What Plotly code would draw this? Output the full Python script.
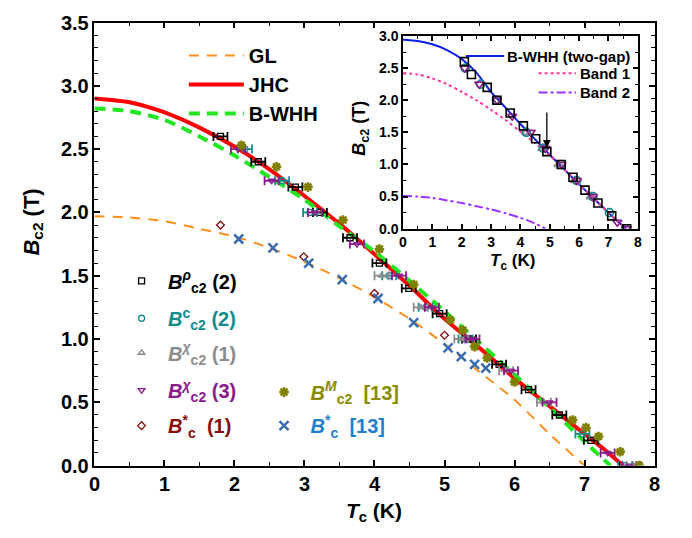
import plotly.graph_objects as go

W, H = 692, 538
F = "Liberation Sans"

# ---------------- main panel curves ----------------
gl_T = [0, 0.5, 1.0, 1.5, 2.0, 2.5, 3.0, 3.5, 4.0, 4.5, 5.0, 5.5, 6.0, 6.5, 7.0]
gl_B = [1.97, 1.96, 1.93, 1.87, 1.81, 1.72, 1.61, 1.48, 1.33, 1.16, 0.96, 0.74, 0.52, 0.25, 0.0]

jhc_T = [0, 0.5, 1.0, 1.5, 2.0, 2.5, 3.0, 3.5, 4.0, 4.5, 5.0, 5.5, 6.0, 6.5, 7.0, 7.3, 7.55]
jhc_B = [2.90, 2.87, 2.79, 2.67, 2.52, 2.34, 2.13, 1.91, 1.67, 1.42, 1.16, 0.93, 0.69, 0.47, 0.25, 0.12, 0.0]

bwhh_T = [0, 0.5, 1.0, 1.5, 2.0, 2.5, 3.0, 3.5, 4.0, 4.5, 5.0, 5.5, 6.0, 6.5, 7.0, 7.37]
bwhh_B = [2.82, 2.80, 2.73, 2.60, 2.45, 2.28, 2.10, 1.89, 1.69, 1.46, 1.22, 0.97, 0.72, 0.46, 0.19, 0.0]

# ---------------- main panel data ----------------
rho_T = [1.80, 2.34, 2.87, 3.22, 3.65, 4.07, 4.49, 4.93, 5.35, 5.78, 6.20, 6.64, 7.09]
rho_B = [2.60, 2.40, 2.20, 2.00, 1.80, 1.60, 1.40, 1.20, 1.00, 0.80, 0.60, 0.40, 0.20]

cs_T = [2.15, 2.68, 3.08, 4.21, 4.73, 5.30, 6.97, 7.58]
cs_B = [2.50, 2.25, 2.00, 1.50, 1.25, 1.00, 0.25, 0.00]

chi1_T = [4.10, 4.66, 5.24, 5.88, 6.42, 7.70]
chi1_B = [1.50, 1.25, 1.00, 0.75, 0.50, 0.00]

chi3_T = [2.05, 2.53, 3.15, 3.75, 4.35, 4.82, 5.40, 5.95, 6.50, 7.33, 7.64]
chi3_B = [2.50, 2.25, 2.00, 1.75, 1.50, 1.25, 1.00, 0.75, 0.50, 0.10, 0.00]

bc1_T = [1.80, 2.99, 4.00, 5.00]
bc1_B = [1.90, 1.65, 1.36, 1.03]

m13_T = [2.10, 2.60, 3.05, 3.55, 4.07, 4.56, 5.08, 5.26, 5.43, 5.61, 6.00, 6.83, 7.02, 7.20, 7.51, 7.78]
m13_B = [2.53, 2.36, 2.20, 1.94, 1.71, 1.43, 1.15, 1.07, 0.94, 0.85, 0.66, 0.36, 0.30, 0.23, 0.11, 0.00]

bc13_T = [2.06, 2.55, 3.06, 3.54, 4.05, 4.56, 5.05, 5.24, 5.43, 5.59]
bc13_B = [1.79, 1.72, 1.60, 1.47, 1.32, 1.13, 0.93, 0.86, 0.80, 0.77]

T_err = 0.1

# ---------------- inset ----------------
two_T = [0, 0.5, 1.0, 1.5, 2.0, 2.5, 3.0, 3.5, 4.0, 4.5, 5.0, 5.5, 6.0, 6.5, 7.0, 7.3, 7.6]
two_B = [2.94, 2.92, 2.87, 2.78, 2.64, 2.43, 2.13, 1.88, 1.63, 1.39, 1.15, 0.92, 0.69, 0.47, 0.25, 0.12, 0.0]

b1_T = [0, 0.5, 1.0, 1.5, 2.0, 2.5, 3.0, 3.5, 4.0, 4.5, 5.0, 5.5, 6.0, 6.5, 7.0, 7.3, 7.6]
b1_B = [2.42, 2.40, 2.34, 2.25, 2.13, 2.00, 1.85, 1.69, 1.51, 1.33, 1.14, 0.92, 0.69, 0.47, 0.25, 0.12, 0.0]

b2_T = [0, 0.5, 1.0, 1.5, 2.0, 2.5, 3.0, 3.5, 4.0, 4.5, 4.85]
b2_B = [0.51, 0.50, 0.48, 0.44, 0.40, 0.35, 0.30, 0.24, 0.17, 0.08, 0.0]

in_sq_T = [2.09, 2.33, 2.87, 3.20, 3.65, 4.10, 4.52, 4.90, 5.39, 5.79, 6.20, 6.64, 7.11, 7.62]
in_sq_B = [2.6, 2.4, 2.2, 2.0, 1.8, 1.6, 1.4, 1.2, 1.0, 0.8, 0.6, 0.4, 0.2, 0.0]
in_ci_T = [2.12, 2.65, 3.18, 4.20, 4.78, 5.38, 5.92, 6.47, 7.03, 7.58]
in_ci_B = [2.5, 2.25, 2.0, 1.5, 1.25, 1.0, 0.75, 0.5, 0.25, 0.0]
in_dt_T = [2.10, 2.60, 3.20, 3.72, 4.35, 4.85, 5.40, 5.92, 6.47, 7.30, 7.62]
in_dt_B = [2.5, 2.25, 2.0, 1.75, 1.5, 1.25, 1.0, 0.75, 0.5, 0.1, 0.0]
in_ut_T = [4.20, 4.75, 5.30, 5.85, 6.40]
in_ut_B = [1.5, 1.25, 1.0, 0.75, 0.5]

arrow_T = 4.9
arrow_B = [1.83, 1.26]

# colors
C_GL, C_JHC, C_BW = "#ff8f1f", "#ff0000", "#22e622"
C_BLK, C_TEAL, C_GRAY, C_PURP = "#000000", "#128c8c", "#8c8c8c", "#8b1a8b"
C_DRED, C_OLIVE, C_XBLUE, C_TBLUE = "#8b0d0d", "#7f7f00", "#3a6eb0", "#1f7fcf"
C_2G, C_B1, C_B2 = "#0a22e6", "#ff3399", "#9933ff"


def px(x):
    return x / W


def py(y):
    return 1 - y / H


fig = go.Figure()


def curve(x, y, name, color, width, dash, legend="legend", xa="x", ya="y", show=True):
    fig.add_trace(go.Scatter(x=x, y=y, mode="lines", name=name, legend=legend,
                             line=dict(color=color, width=width, dash=dash, shape="spline", smoothing=0.8),
                             showlegend=show, xaxis=xa, yaxis=ya, hoverinfo="skip"))


curve(gl_T, gl_B, "GL", C_GL, 2, "10px,8px")
curve(jhc_T, jhc_B, "JHC", C_JHC, 4, "solid")
curve(bwhh_T, bwhh_B, "B-WHH", C_BW, 4, "11px,7px")

legend_defs = {}


def data(x, y, name, color, symbol, legend, lx, ly, err=True, size=6, lw=1.3, tcolor=None, off=18):
    fig.add_trace(go.Scatter(
        x=x, y=y, mode="markers", name=f"<span style='color:{tcolor or color}'>{name}</span>",
        legend=legend,
        marker=dict(symbol=symbol, size=size, color=color, line=dict(color=color, width=lw)),
        error_x=dict(type="constant", value=T_err, color=color, thickness=1.8, width=4.5, visible=err),
        hoverinfo="skip"))
    # lx: marker centre x (px), ly: row centre y (px)
    legend_defs[legend] = dict(x=px(lx - 26), y=py(ly - off), xanchor="left", yanchor="top",
                               bgcolor="rgba(0,0,0,0)", itemwidth=43,
                               font=dict(size=20, family=F, weight="bold"))


data(rho_T, rho_B, "<i>B</i><sup><i>ρ</i></sup><sub>c2</sub> (2)", C_BLK, "square-open", "legend2", 137, 281, off=20)
data(cs_T, cs_B, "<i>B</i><sup>c</sup><sub>c2</sub> (2)", C_TEAL, "circle-open", "legend3", 137, 318)
data(chi1_T, chi1_B, "<i>B</i><sup><i>χ</i></sup><sub>c2</sub> (1)", C_GRAY, "triangle-up-open", "legend4", 137, 354)
data(chi3_T, chi3_B, "<i>B</i><sup><i>χ</i></sup><sub>c2</sub> (3)", C_PURP, "triangle-down-open", "legend5", 137, 390,
     off=15)
data(bc1_T, bc1_B, "<i>B</i><sup>*</sup><sub>c</sub>  (1)", C_DRED, "diamond-open", "legend6", 137, 427, err=False,
     off=15)
data(m13_T, m13_B, "<i>B</i><sup><i>M</i></sup><sub>c2</sub>  [13]", C_OLIVE, "asterisk-open", "legend7", 282, 390,
     err=False, size=8, lw=2.5, tcolor="#8b8b00", off=13)
data(bc13_T, bc13_B, "<i>B</i><sup>*</sup><sub>c</sub>  [13]", C_XBLUE, "x-thin-open", "legend8", 282, 427,
     err=False, size=9, lw=2.5, tcolor=C_TBLUE, off=15)

# inset
curve(two_T, two_B, "B-WHH (two-gap)", C_2G, 2, "solid", xa="x2", ya="y2", show=False)
curve(b1_T, b1_B, "Band 1", C_B1, 2, "dot", xa="x2", ya="y2", show=False)
curve(b2_T, b2_B, "Band 2", C_B2, 2, "dashdot", xa="x2", ya="y2", show=False)


def idata(x, y, color, symbol):
    fig.add_trace(go.Scatter(x=x, y=y, mode="markers", xaxis="x2", yaxis="y2", showlegend=False,
                             marker=dict(symbol=symbol, size=8, color=color, line=dict(color=color, width=1.6)),
                             hoverinfo="skip"))


idata(in_ut_T, in_ut_B, C_GRAY, "triangle-up-open")
idata(in_ci_T, in_ci_B, C_TEAL, "circle-open")
idata(in_dt_T, in_dt_B, C_PURP, "triangle-down-open")
idata(in_sq_T, in_sq_B, C_BLK, "square-open")

axcommon = dict(showline=True, linewidth=1.5, linecolor="black", mirror="allticks", ticks="inside",
                tickwidth=1.5, tickcolor="black", showgrid=False, zeroline=False)

fig.update_layout(
    width=W, height=H, margin=dict(l=0, r=0, t=0, b=0),
    paper_bgcolor="white", plot_bgcolor="white",
    font=dict(family=F, color="black"),
    xaxis=dict(domain=[px(90), px(660)], range=[0, 8], dtick=1, ticklen=6, anchor="y",
               tickfont=dict(size=20, family=F, weight="bold"),
               minor=dict(dtick=0.5, ticklen=3.5, ticks="inside", tickwidth=1.2, tickcolor="black"),
               **axcommon),
    yaxis=dict(domain=[py(474), py(12)], range=[0, 3.5], dtick=0.5, tickformat=".1f", ticklen=6, anchor="x",
               tickfont=dict(size=20, family=F, weight="bold"),
               minor=dict(dtick=0.1, ticklen=3.5, ticks="inside", tickwidth=1.2, tickcolor="black"),
               **axcommon),
    xaxis2=dict(domain=[px(404), px(643)], range=[0, 8], dtick=1, ticklen=5, anchor="y2",
                tickfont=dict(size=14, family=F, weight="bold"),
                minor=dict(dtick=0.5, ticklen=3, ticks="inside", tickwidth=1.2, tickcolor="black"),
                **axcommon),
    yaxis2=dict(domain=[py(227), py(26)], range=[0, 3.0], dtick=0.5, tickformat=".1f", ticklen=5, anchor="x2",
                tickfont=dict(size=14, family=F, weight="bold"),
                minor=dict(dtick=0.25, ticklen=3, ticks="inside", tickwidth=1.2, tickcolor="black"),
                **axcommon),
    legend=dict(x=px(181), y=py(26), xanchor="left", yanchor="top", bgcolor="rgba(0,0,0,0)",
                font=dict(size=20, family=F, weight="bold"), itemwidth=55, tracegroupgap=0),
    **legend_defs,
)

# axis titles
anns = [
    dict(text="<i>T</i><sub>c</sub> (K)", x=px(375), y=py(522), size=21, angle=0),
    dict(text="<i>B</i><sub>c2</sub> (T)", x=px(27), y=py(220), size=22, angle=-90),
    dict(text="<i>T</i><sub>c</sub> (K)", x=px(515), y=py(262), size=17, angle=0),
    dict(text="<i>B</i><sub>c2</sub> (T)", x=px(360), y=py(122), size=18, angle=-90),
]
for a in anns:
    fig.add_annotation(xref="paper", yref="paper", showarrow=False, xanchor="center", yanchor="middle",
                       font=dict(family=F, color="black", size=a["size"], weight="bold"),
                       text=a["text"], x=a["x"], y=a["y"], textangle=a["angle"])

# inset legend (right aligned)
inset_leg = [("B-WHH (two-gap)", C_2G, "solid", 468, 507, 47),
             ("Band 1", C_B1, "dot", 542, 580, 65),
             ("Band 2", C_B2, "dashdot", 542, 580, 85)]
for txt, col, dash, x0, x1, yy in inset_leg:
    fig.add_shape(type="line", xref="paper", yref="paper", x0=px(x0), x1=px(x1), y0=py(yy), y1=py(yy),
                  line=dict(color=col, width=2, dash=dash))
    fig.add_annotation(xref="paper", yref="paper", showarrow=False, xanchor="right", yanchor="middle",
                       x=px(637), y=py(yy), text=txt, font=dict(family=F, size=15, color="black", weight="bold"))

# inset arrow
fig.add_annotation(xref="x2", yref="y2", axref="x2", ayref="y2", x=arrow_T, y=arrow_B[1],
                   ax=arrow_T, ay=arrow_B[0], showarrow=True, arrowhead=2, arrowsize=1.2,
                   arrowwidth=1.3, arrowcolor="black", text="")

fig.write_html("out.html")
